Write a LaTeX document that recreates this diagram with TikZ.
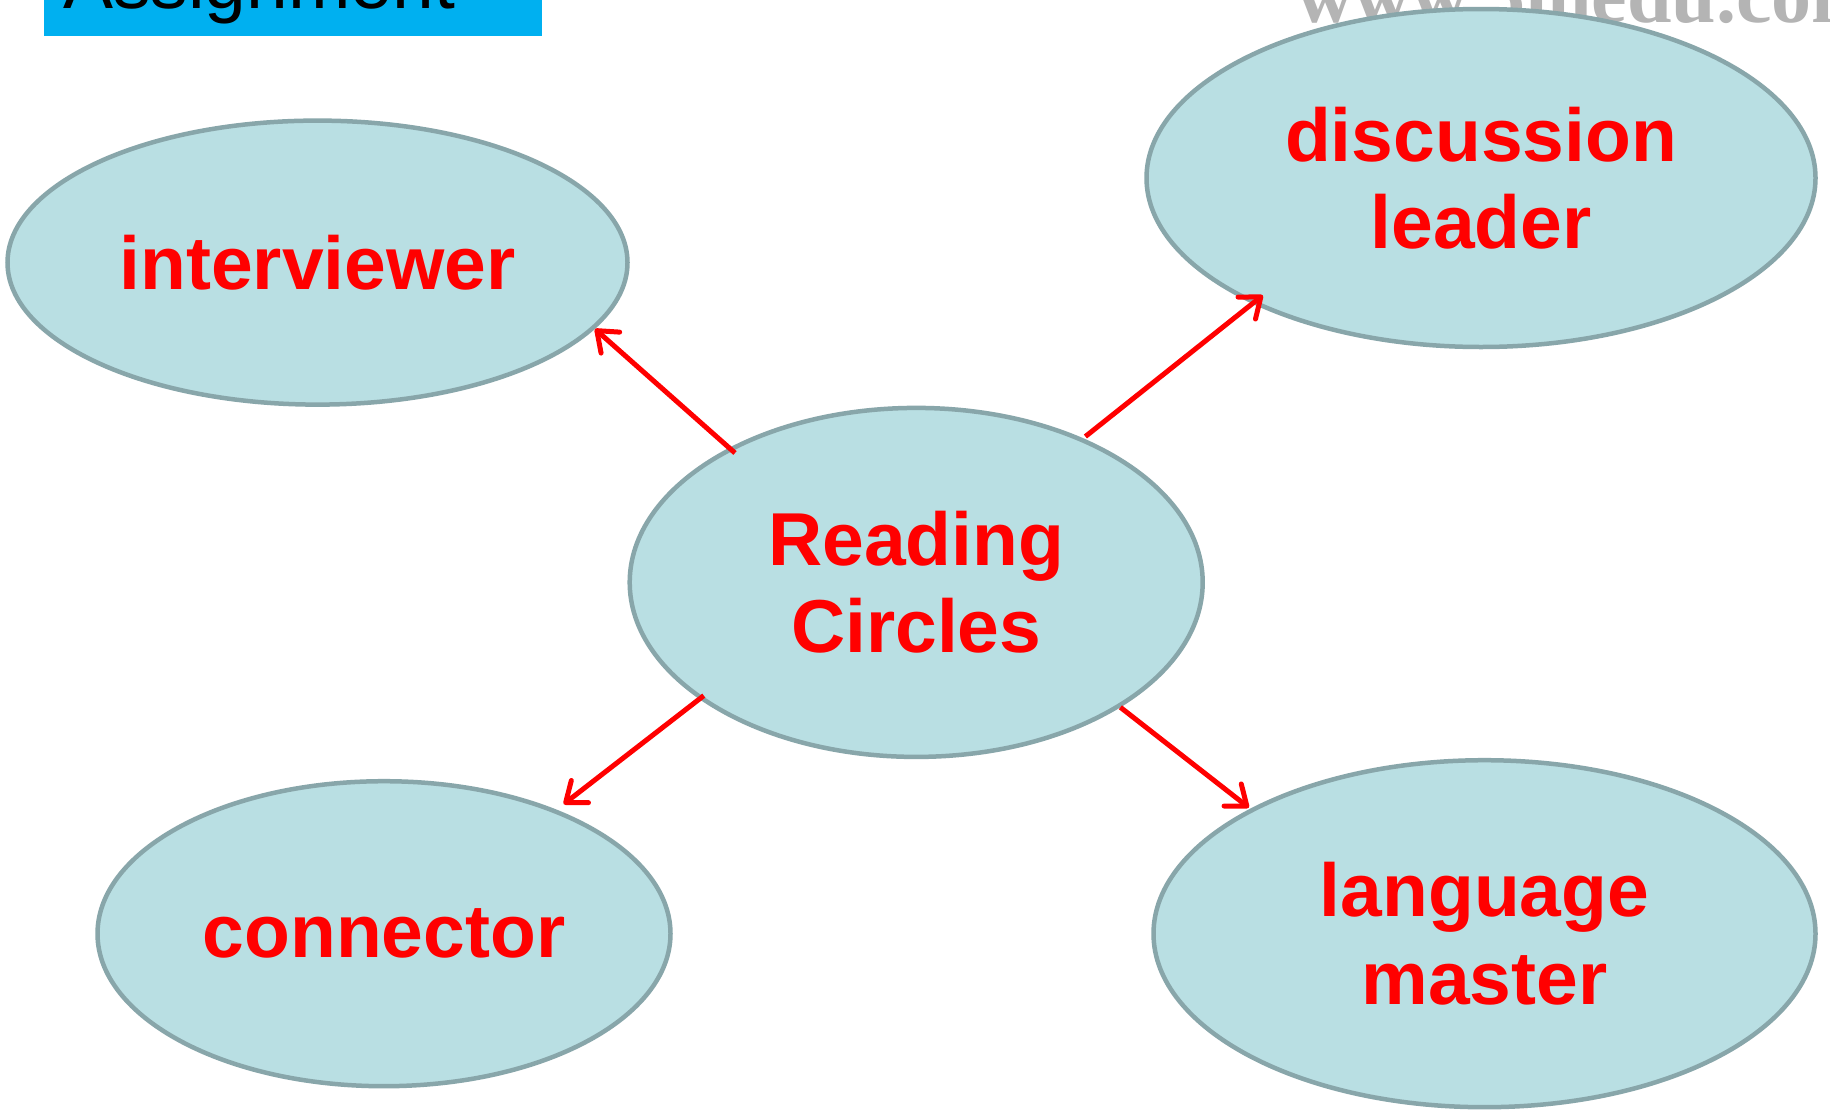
\documentclass[tikz,border=0pt]{standalone}
\usepackage{fontspec}
\setmainfont{Liberation Sans}
\newfontfamily\wmfont{Liberation Serif}
\usetikzlibrary{shapes.geometric,arrows.meta,calc}
\definecolor{ellfill}{HTML}{B9DFE3}
\definecolor{elldraw}{HTML}{88A6AA}
\definecolor{boxblue}{HTML}{00B0F0}
\definecolor{wmgray}{HTML}{B4B4B4}
\begin{document}
\begin{tikzpicture}[x=1pt,y=-1pt,
  bubble/.style={ellipse, draw=elldraw, fill=ellfill, line width=4.5pt, inner sep=0pt, align=center, text=red, font=\fontsize{75}{87.5}\selectfont\bfseries},
  arr/.style={draw=red, line width=5pt, -{Straight Barb[length=18pt,width=28pt,round]}}]
\useasboundingbox (0,0) rectangle (1830,1111);
\clip (0,0) rectangle (1830,1111);
\fill[white] (0,0) rectangle (1830,1111);
% title box (cut off at top)
\fill[boxblue] (44,-40) rectangle (542,36);
\node[anchor=base west, inner sep=0pt, font=\fontsize{75}{90}\selectfont] (title) at (63,8.5) {Assignment};
% watermark
\node[anchor=base west, inner sep=0pt, text=wmgray, font=\wmfont\bfseries\fontsize{80}{96}\selectfont] (wm) at (1296,22) {www.5ihedu.com};
% ellipses
\node[bubble, minimum width=620pt, minimum height=284pt] (iv) at (317.5,262.6) {interviewer};
\node[bubble, minimum width=669pt, minimum height=338pt] (dl) at (1481,178) {discussion\\leader};
\node[bubble, minimum width=573pt, minimum height=349pt] (rc) at (916.2,582.4) {Reading\\Circles};
\node[bubble, minimum width=573pt, minimum height=305pt] (cn) at (384,933.7) {connector};
\node[bubble, minimum width=662pt, minimum height=347pt] (lm) at (1484.5,933.7) {language\\master};
% arrows
\draw[arr] ($(rc.center)+(-181.2,-129.4)$) -- ($(iv.center)+(277.5,66.4)$);
\draw[arr] ($(rc.center)+(169.2,-145.9)$) -- ($(dl.center)+(-218.2,117.3)$);
\draw[arr] ($(rc.center)+(-212.4,113.2)$) -- ($(cn.center)+(179.7,-129.6)$);
\draw[arr] ($(rc.center)+(204.2,124.9)$) -- ($(lm.center)+(-235.7,-126.1)$);
\end{tikzpicture}
\end{document}
